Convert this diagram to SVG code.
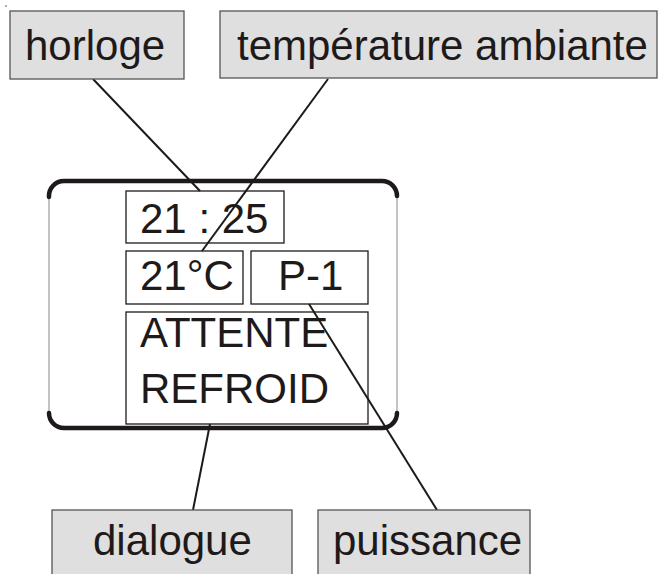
<svg xmlns="http://www.w3.org/2000/svg" width="662" height="574" viewBox="0 0 662 574">
<style>
.lbl{fill:#dfdfdf;stroke:#555;stroke-width:1.3}
.txt{font-family:"Liberation Sans",Arial,sans-serif;font-size:42px;fill:#1e1a1a}
.cell{fill:#fff;stroke:#1e1a1a;stroke-width:1.3}
.conn{stroke:#1e1a1a;stroke-width:2;fill:none}
.thick{stroke:#1e1a1a;stroke-width:4.5;fill:none;stroke-linecap:round}
.side{stroke:#9a9a9a;stroke-width:1.2}
</style>
<rect x="5" y="5" width="2" height="2" fill="#aaa"/>
<g id="frame">
<line class="side" x1="49" y1="196" x2="49" y2="415"/>
<line class="side" x1="397" y1="196" x2="397" y2="415"/>
<path class="thick" d="M49,197 A15,15 0 0 1 64,181 L382,181 A15,15 0 0 1 397,196"/>
<path class="thick" d="M49,413 A15,15 0 0 0 64,428 L382,428 A15,15 0 0 0 397,413"/>
</g>
<g id="clock">
<rect class="cell" x="126" y="191" width="158" height="52"/>
<text class="txt" x="140" y="233">21 : 25</text>
</g>
<g id="temp">
<rect class="cell" x="126" y="251" width="117" height="53"/>
<text class="txt" x="140" y="290">21°C</text>
</g>
<g id="power">
<rect class="cell" x="251" y="251" width="117" height="53"/>
<text class="txt" x="278" y="290">P-1</text>
</g>
<g id="dialog">
<rect class="cell" x="126" y="312" width="242" height="112"/>
<text class="txt" x="140" y="347">ATTENTE</text>
<text class="txt" x="140" y="403">REFROID</text>
</g>
<g id="connectors">
<line class="conn" x1="93" y1="79" x2="200" y2="191"/>
<line class="conn" x1="328" y1="79" x2="202" y2="251"/>
<line class="conn" x1="210" y1="424" x2="193" y2="510"/>
<line class="conn" x1="309" y1="304" x2="437" y2="510"/>
</g>
<g id="horloge">
<rect class="lbl" x="10" y="11" width="174" height="68"/>
<text class="txt" x="25" y="60">horloge</text>
</g>
<g id="temperature">
<rect class="lbl" x="220" y="11" width="437" height="67"/>
<text class="txt" x="237" y="60">température ambiante</text>
</g>
<g id="dialogue">
<rect class="lbl" x="52" y="510" width="240" height="80"/>
<text class="txt" x="93" y="555">dialogue</text>
</g>
<g id="puissance">
<rect class="lbl" x="318" y="510" width="212" height="80"/>
<text class="txt" x="333" y="555">puissance</text>
</g>
</svg>
